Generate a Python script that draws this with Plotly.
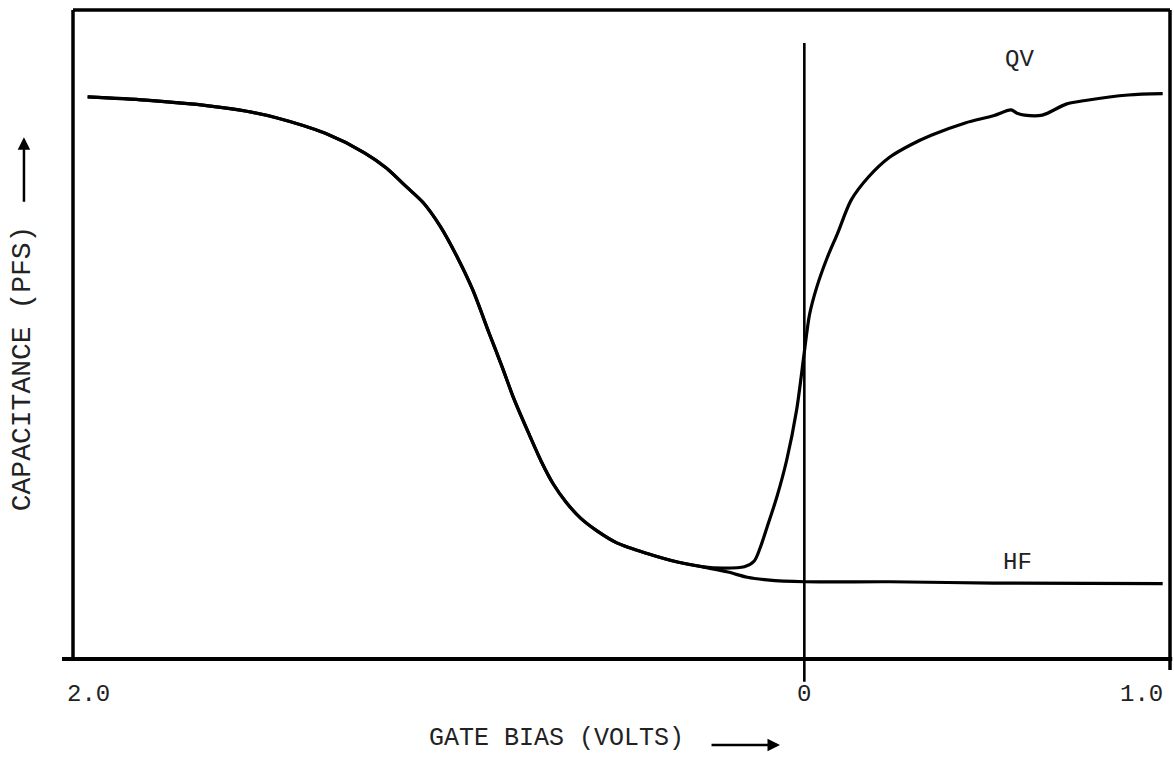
import plotly.graph_objects as go

# Gate bias sweep (V) and relative capacitance for the high-frequency (HF)
# and quasi-static (QV) C-V curves.
hf_bias = [-1.960, -1.801, -1.624, -1.525, -1.444, -1.310, -1.203, -1.144, -1.087,
           -1.042, -0.996, -0.948, -0.907, -0.862, -0.827, -0.795, -0.754, -0.719,
           -0.687, -0.652, -0.612, -0.566, -0.513, -0.432, -0.344, -0.277, -0.209,
           -0.156, -0.102, 0.000, 0.233, 0.517, 0.980]
hf_cap = [0.866, 0.861, 0.852, 0.844, 0.834, 0.810, 0.780, 0.757, 0.727,
          0.703, 0.667, 0.618, 0.569, 0.502, 0.451, 0.402, 0.348, 0.304,
          0.270, 0.242, 0.217, 0.197, 0.179, 0.163, 0.149, 0.142, 0.134,
          0.126, 0.122, 0.119, 0.119, 0.117, 0.116]

qv_bias = [-1.960, -1.801, -1.624, -1.525, -1.444, -1.310, -1.203, -1.144, -1.087,
           -1.042, -0.996, -0.948, -0.907, -0.862, -0.827, -0.795, -0.754, -0.719,
           -0.687, -0.652, -0.612, -0.566, -0.513, -0.432, -0.344, -0.277, -0.223,
           -0.164, -0.137, -0.121, -0.102, -0.075, -0.048, -0.021, 0.000, 0.014,
           0.034, 0.063, 0.091, 0.128, 0.176, 0.233, 0.290, 0.347, 0.440,
           0.517, 0.565, 0.582, 0.602, 0.651, 0.716, 0.773, 0.886, 0.980]
qv_cap = [0.866, 0.861, 0.852, 0.844, 0.834, 0.810, 0.780, 0.757, 0.727,
          0.703, 0.667, 0.618, 0.569, 0.502, 0.451, 0.402, 0.348, 0.304,
          0.270, 0.242, 0.217, 0.197, 0.179, 0.163, 0.149, 0.142, 0.140,
          0.142, 0.151, 0.171, 0.203, 0.250, 0.307, 0.384, 0.473, 0.530,
          0.573, 0.619, 0.656, 0.707, 0.743, 0.773, 0.792, 0.807, 0.826,
          0.837, 0.846, 0.841, 0.838, 0.838, 0.855, 0.861, 0.869, 0.871]

tick_values = [-2.0, 0.0, 1.0]
tick_labels = ["2.0", "0", "1.0"]
tick_anchor = ["left", "center", "right"]
tick_shift = [-8, 0, -5]

INK = "black"
FONT = "Liberation Mono, DejaVu Sans Mono, monospace"

fig = go.Figure()

for xs, ys in ((hf_bias, hf_cap), (qv_bias, qv_cap)):
    fig.add_trace(go.Scatter(
        x=xs, y=ys, mode="lines",
        line=dict(color=INK, width=3.2, shape="spline", smoothing=0.8),
        hoverinfo="skip", showlegend=False,
    ))

shapes = [
    # frame: left, top, right, bottom
    dict(type="line", xref="paper", yref="paper", x0=0, x1=0, y0=0, y1=1.0,
         line=dict(color=INK, width=3.5)),
    dict(type="line", xref="paper", yref="paper", x0=0, x1=1.0, y0=1.0, y1=1.0,
         line=dict(color=INK, width=3.5)),
    dict(type="line", xref="paper", yref="paper", x0=1.0, x1=1.0, y0=-0.017, y1=1.0,
         line=dict(color=INK, width=3.5)),
    dict(type="line", xref="paper", yref="paper", x0=-0.010, x1=1.002, y0=0, y1=0,
         line=dict(color=INK, width=4)),
    # zero-bias marker
    dict(type="line", xref="x", yref="paper", x0=0.0, x1=0.0, y0=-0.035, y1=0.949,
         line=dict(color=INK, width=2.6)),
]

annotations = []
for v, t, a, s in zip(tick_values, tick_labels, tick_anchor, tick_shift):
    annotations.append(dict(
        x=v, xref="x", y=-0.055, yref="paper", text=t, showarrow=False,
        xanchor=a, yanchor="middle", xshift=s,
        font=dict(family=FONT, size=24, color="#222"),
    ))

annotations += [
    dict(x=0.441, y=-0.122, xref="paper", yref="paper", text="GATE BIAS (VOLTS)",
         showarrow=False, xanchor="center", yanchor="middle",
         font=dict(family=FONT, size=25, color="#222")),
    dict(x=-0.0465, y=0.448, xref="paper", yref="paper", text="CAPACITANCE (PFS)",
         showarrow=False, textangle=-90, xanchor="center", yanchor="middle",
         font=dict(family=FONT, size=28, color="#222")),
    dict(x=0.6445, y=-0.1325, xref="paper", yref="paper", text="", showarrow=True,
         ax=-70, ay=0, arrowhead=2, arrowsize=1, arrowwidth=2.5, arrowcolor=INK),
    dict(x=-0.0447, y=0.804, xref="paper", yref="paper", text="", showarrow=True,
         ax=0, ay=66, arrowhead=2, arrowsize=1, arrowwidth=2.5, arrowcolor=INK),
    dict(x=0.863, y=0.923, xref="paper", yref="paper", text="QV", showarrow=False,
         xanchor="center", yanchor="middle",
         font=dict(family=FONT, size=24, color="#222")),
    dict(x=0.861, y=0.148, xref="paper", yref="paper", text="HF", showarrow=False,
         xanchor="center", yanchor="middle",
         font=dict(family=FONT, size=24, color="#222")),
]

fig.update_layout(
    width=1174, height=762,
    margin=dict(l=73, r=4, t=10, b=103),
    paper_bgcolor="white", plot_bgcolor="white",
    xaxis=dict(range=[-2.0, 1.0], showgrid=False, zeroline=False, showline=False,
               showticklabels=False, ticks=""),
    yaxis=dict(range=[0.0, 1.0], showgrid=False, zeroline=False, showline=False,
               showticklabels=False, ticks=""),
    shapes=shapes,
    annotations=annotations,
)

fig.write_html("out.html")
